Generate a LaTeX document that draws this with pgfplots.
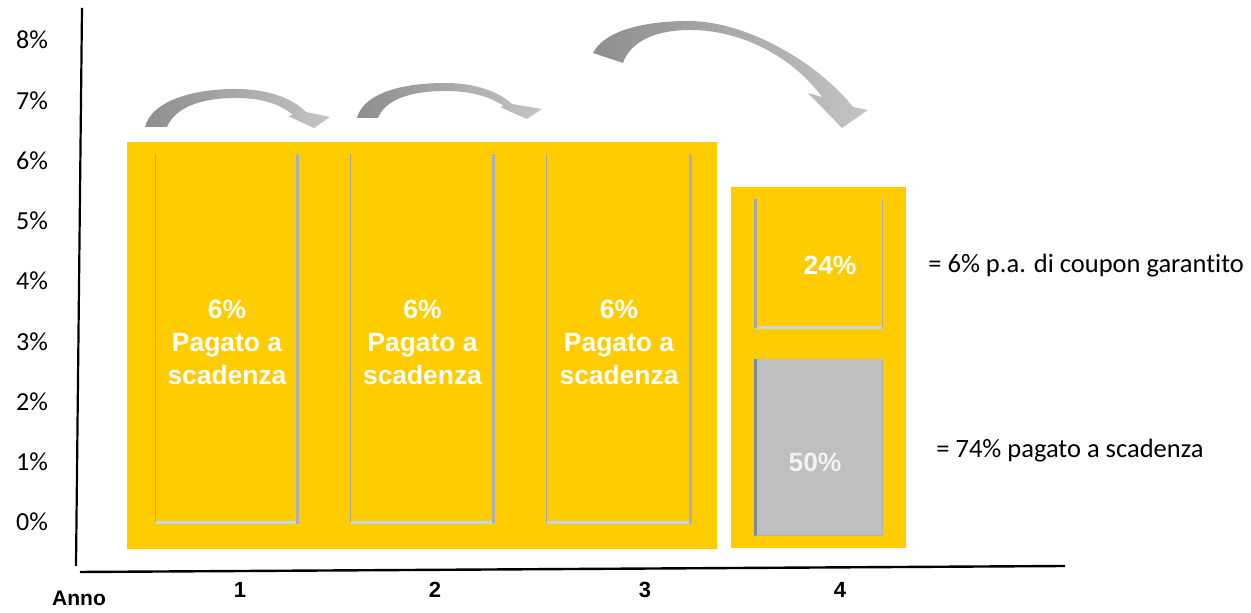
\documentclass[border=0pt]{standalone}
\usepackage{pgfplots}
\pgfplotsset{compat=1.18}
\usepackage{fontspec}
\setmainfont{Carlito}[Ligatures=NoCommon]
\newfontfamily\arialf{Liberation Sans}
\definecolor{gold}{HTML}{FFCC00}
\definecolor{boxgray}{HTML}{BFBFBF}
\definecolor{thinb}{HTML}{A6A6A6}
\definecolor{thickb}{HTML}{A9B1BD}
\definecolor{blueb}{HTML}{C8D5E6}
\definecolor{darkb}{HTML}{7F8A96}
\definecolor{arrdark}{HTML}{8E8E8E}
\definecolor{arrlight}{HTML}{C4C4C4}
\begin{document}
\begin{tikzpicture}
\useasboundingbox (0,0) rectangle (625.5pt,306.5pt);
\begin{axis}[
  at={(0pt,0pt)}, anchor=south west, scale only axis,
  width=625.5pt, height=306.5pt,
  xmin=0, xmax=1251, ymin=-1.510, ymax=8.664,
  axis line style={draw=none}, major tick length=0pt,
  ytick={0,1,2,3,4,5,6,7,8},
  yticklabels={0\%,1\%,2\%,3\%,4\%,5\%,6\%,7\%,8\%},
  yticklabel style={anchor=center, xshift=16pt, font=\fontsize{13}{15}\selectfont},
  xtick={240,435,645,840}, xticklabels={1,2,3,4},
  xticklabel style={anchor=center, yshift=11.5pt, font=\arialf\bfseries\fontsize{11}{13}\selectfont},
  clip=false]
% yellow backgrounds
\addplot[fill=gold, draw=none] coordinates {(127,-0.448) (717,-0.448) (717,6.307) (127,6.307)} -- cycle;
\addplot[fill=gold, draw=none] coordinates {(731,-0.432) (906,-0.432) (906,5.560) (731,5.560)} -- cycle;
% year 4 grey part (50%)
\addplot[fill=boxgray, draw=none] coordinates {(754,-0.232) (883,-0.232) (883,2.705) (754,2.705)} -- cycle;
% inner bars years 1-3 (6%)
\addplot[draw=blueb, line width=1.5pt] coordinates {(156,0) (297,0)};
\addplot[draw=blueb, line width=1.5pt] coordinates {(351,0) (493,0)};
\addplot[draw=blueb, line width=1.5pt] coordinates {(547,0) (690,0)};
\addplot[draw=thinb, line width=0.5pt] coordinates {(155.5,0) (155.5,6.1)};
\addplot[draw=thinb, line width=0.5pt] coordinates {(350.5,0) (350.5,6.1)};
\addplot[draw=thinb, line width=0.5pt] coordinates {(546.5,0) (546.5,6.1)};
\addplot[draw=thickb, line width=1.6pt] coordinates {(297.5,-0.03) (297.5,6.1)};
\addplot[draw=thickb, line width=1.6pt] coordinates {(493.5,-0.03) (493.5,6.1)};
\addplot[draw=thickb, line width=1.6pt] coordinates {(690.5,-0.03) (690.5,6.1)};
% year 4 top box (24%)
\addplot[draw=blueb, line width=1.5pt] coordinates {(756,3.235) (882,3.235)};
\addplot[draw=thinb, line width=1.8pt] coordinates {(755.5,3.22) (755.5,5.361)};
\addplot[draw=thickb, line width=0.6pt] coordinates {(882.5,3.22) (882.5,5.361)};
% grey box borders
\addplot[draw=darkb, line width=1.6pt] coordinates {(755.5,-0.232) (755.5,2.705)};
\addplot[draw=thickb, line width=0.6pt] coordinates {(882.5,-0.232) (882.5,2.705)};
\addplot[draw=thickb, line width=0.6pt] coordinates {(755,-0.225) (883,-0.225)};
\end{axis}
\begin{scope}[x=0.5pt, y=-0.5pt, shift={(0pt,306.5pt)}]
% axes lines
\draw[black, line width=1.1pt] (82,8) -- (76,566);
\draw[black, line width=1.2pt] (80,572) -- (1065,566);
\node[font=\arialf\bfseries\fontsize{10.5}{12}\selectfont, anchor=base] at (79,606) {Anno};
% arrows
\shade[left color=arrdark, right color=arrlight]
 (145,127) .. controls (152,100) and (195,89) .. (235,89)
 .. controls (268,89) and (292,98) .. (306,112)
 -- (330,117) -- (314,128) -- (288,116) -- (293,115)
 .. controls (280,104) and (262,98) .. (235,98)
 .. controls (200,98) and (175,108) .. (167,127) -- cycle;
\shade[left color=arrdark, right color=arrlight]
 (357,118) .. controls (364,92) and (405,83) .. (445,83)
 .. controls (478,83) and (500,93) .. (512,104)
 -- (542,109) -- (527,119) -- (500,107) -- (504,106)
 .. controls (490,97) and (472,91) .. (445,91)
 .. controls (410,91) and (385,100) .. (378,118) -- cycle;
\shade[left color=arrdark, right color=arrlight]
 (593,53) .. controls (605,30) and (645,21) .. (690,21)
 .. controls (750,22) and (820,65) .. (853,107)
 -- (868,110) -- (842,128) -- (808,93) -- (822,97)
 .. controls (795,60) and (745,30) .. (690,30)
 .. controls (655,30) and (630,42) .. (623,63) -- cycle;
% bar texts
\foreach \cx in {227,422.5,619}{
 \node[anchor=base, text=white, inner sep=0pt, font=\arialf\bfseries\fontsize{13.2}{15}\selectfont] at (\cx,319) {6\%};
 \node[anchor=base, text=white, inner sep=0pt, font=\arialf\bfseries\fontsize{13.2}{15}\selectfont] at (\cx,352) {Pagato a};
 \node[anchor=base, text=white, inner sep=0pt, font=\arialf\bfseries\fontsize{13.2}{15}\selectfont] at (\cx,385) {scadenza};
}
\node[anchor=base, text=white, inner sep=0pt, font=\arialf\bfseries\fontsize{13.2}{15}\selectfont] at (830,275) {24\%};
\node[anchor=base, text=white!95!black, inner sep=0pt, font=\arialf\bfseries\fontsize{13.2}{15}\selectfont] at (815,472) {50\%};
\node[anchor=base west, inner sep=0pt, font=\fontsize{13.25}{15}\selectfont] at (928,273) {= 6\% p.a. di coupon garantito};
\node[anchor=base west, inner sep=0pt, font=\fontsize{13.25}{15}\selectfont] at (936,458) {= 74\% pagato a scadenza};
\end{scope}
\end{tikzpicture}
\end{document}
